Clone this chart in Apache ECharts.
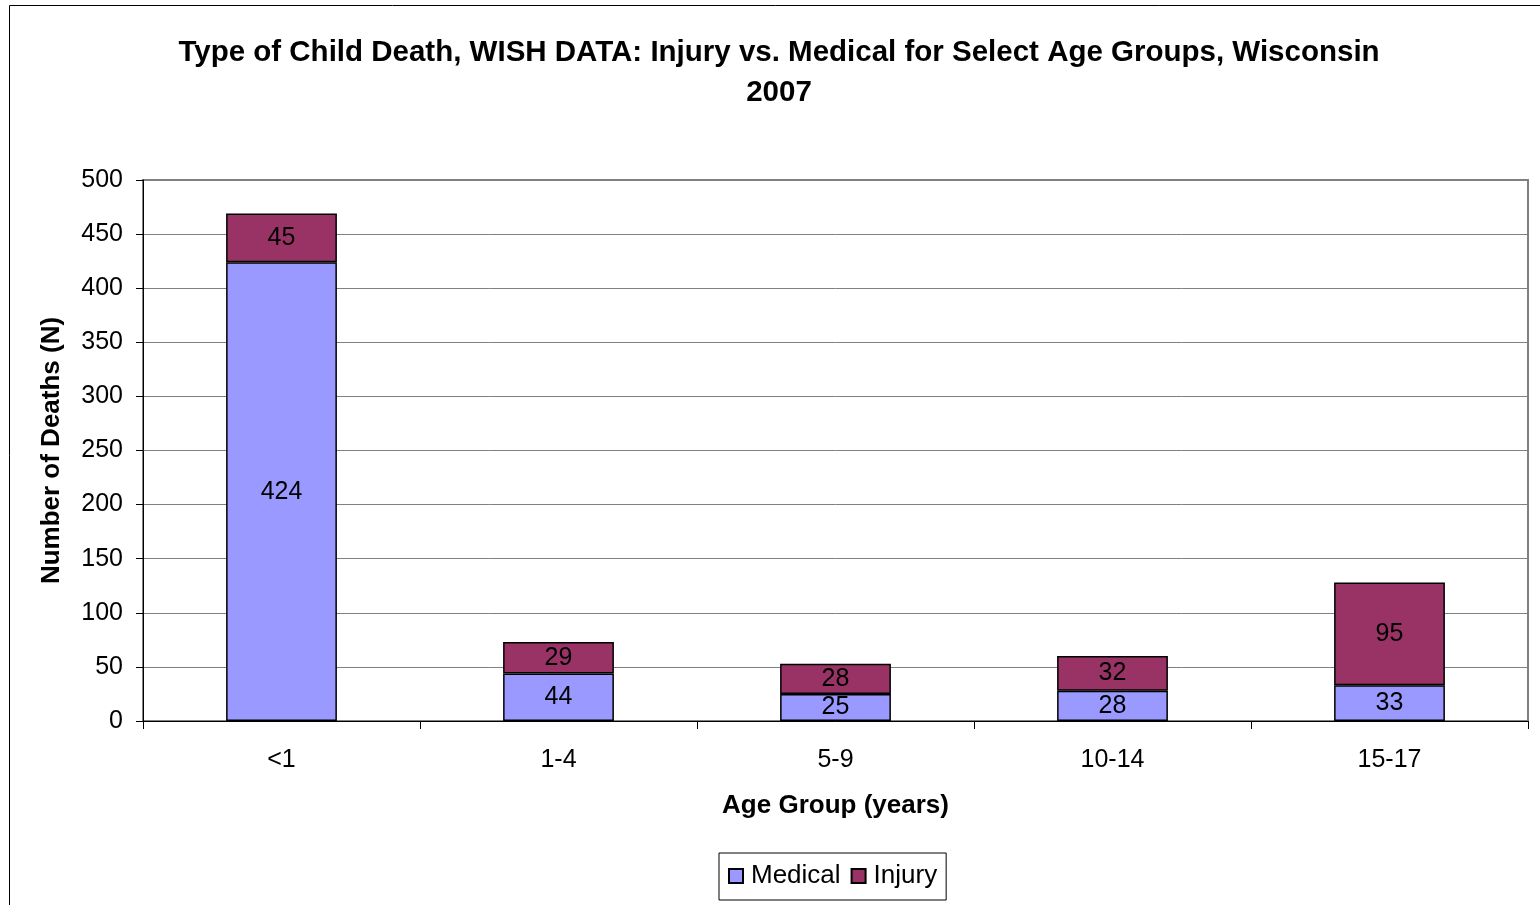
<!DOCTYPE html>
<html><head><meta charset="utf-8">
<script src="https://cdn.jsdelivr.net/npm/echarts@6/dist/echarts.min.js"></script>
<style>html,body{margin:0;padding:0;background:#fff}#c{width:1540px;height:905px}</style>
</head><body><div id="c"></div>
<script>
const categories = ['<1', '1-4', '5-9', '10-14', '15-17'];
const medical = [424, 44, 25, 28, 33];
const injury = [45, 29, 28, 32, 95];
const yTicks = [0, 50, 100, 150, 200, 250, 300, 350, 400, 450, 500];

const chart = echarts.init(document.getElementById('c'));
const ff = '"Liberation Sans", Arial, sans-serif';
chart.setOption({
  animation: false,
  textStyle: { fontFamily: ff },
  graphic: [{
    type: 'rect', shape: { x: 9.5, y: 5.5, width: 1600, height: 1000 },
    style: { fill: 'none', stroke: '#000', lineWidth: 1 }, z: -1
  }],
  title: {
    text: 'Type of Child Death, WISH DATA: Injury vs. Medical for Select Age Groups, Wisconsin\n2007',
    left: 774, top: 28, textAlign: 'center',
    textStyle: { fontFamily: ff, fontSize: 29.5, fontWeight: 'bold', color: '#000', lineHeight: 40 }
  },
  legend: {
    data: ['Medical', 'Injury'],
    left: 719, top: 853,
    padding: [10, 9, 11, 9],
    borderColor: '#000', borderWidth: 1,
    icon: 'rect', itemWidth: 14, itemHeight: 14, itemGap: 10,
    textStyle: { fontFamily: ff, fontSize: 26, color: '#000', padding: [0, 0, 0, 3] }
  },
  grid: { left: 143, right: 12, top: 180, bottom: 184, show: true, borderColor: '#808080', borderWidth: 2 },
  xAxis: {
    type: 'category', data: categories,
    name: 'Age Group (years)', nameLocation: 'middle', nameGap: 72,
    nameTextStyle: { fontFamily: ff, fontSize: 26, fontWeight: 'bold', color: '#000' },
    axisLine: { lineStyle: { color: '#000', width: 1 } },
    axisTick: { show: true, length: 8, lineStyle: { color: '#000' } },
    axisLabel: { fontFamily: ff, fontSize: 25, color: '#000', margin: 27 }
  },
  yAxis: {
    type: 'value', min: yTicks[0], max: yTicks[yTicks.length - 1], interval: 50,
    name: 'Number of Deaths (N)', nameLocation: 'middle', nameGap: 78,
    nameTextStyle: { fontFamily: ff, fontSize: 26, fontWeight: 'bold', color: '#000' },
    axisLine: { show: true, lineStyle: { color: '#000', width: 1 } },
    axisTick: { show: true, length: 7, lineStyle: { color: '#000' } },
    axisLabel: { fontFamily: ff, fontSize: 25, color: '#000', margin: 20 },
    splitLine: { lineStyle: { color: '#808080', width: 1 } }
  },
  series: [
    {
      name: 'Medical', type: 'bar', stack: 'a', data: medical, barWidth: '40%',
      itemStyle: { color: '#9999FF', borderColor: '#000', borderWidth: 1.5 },
      label: { show: true, position: 'inside', fontFamily: ff, fontSize: 25, color: '#000' }
    },
    {
      name: 'Injury', type: 'bar', stack: 'a', data: injury, barWidth: '40%',
      itemStyle: { color: '#993366', borderColor: '#000', borderWidth: 1.5 },
      label: { show: true, position: 'inside', fontFamily: ff, fontSize: 25, color: '#000' }
    }
  ]
});
</script></body></html>
